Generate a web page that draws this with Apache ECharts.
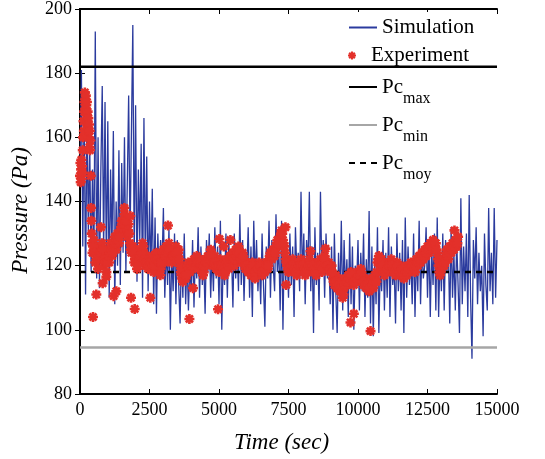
<!DOCTYPE html>
<html>
<head>
<meta charset="utf-8">
<title>Pressure vs time</title>
<script src="https://cdn.jsdelivr.net/npm/echarts@6/dist/echarts.min.js"></script>
<style>
  html, body { margin: 0; padding: 0; background: #fff; }
  #main { width: 545px; height: 459px; }
</style>
</head>
<body>
<div id="main"></div>
<script>
// simulation pressure, one value every 50 s from 0 to 15000 s
var simStep = 50;
var simulation = [
  145, 181, 126, 172, 111, 168, 130, 158, 118, 150,
  122, 193, 116, 160, 113, 150, 176, 124, 171, 118,
  165, 110, 150, 125, 162, 108, 140, 120, 156, 114,
  152, 124, 160, 118, 145, 173, 128, 162, 195, 122,
  170, 115, 150, 128, 158, 110, 166, 120, 154, 112,
  140, 118, 144, 108, 135, 105, 130, 116, 128, 120,
  138, 110, 126, 114, 132, 100, 124, 112, 130, 108,
  128, 114, 102, 125, 110, 130, 108, 122, 106, 120,
  112, 128, 107, 124, 116, 132, 110, 126, 114, 122,
  105, 128, 118, 130, 110, 124, 112, 132, 116, 126,
  108, 134, 100, 122, 114, 130, 110, 128, 118, 124,
  107, 130, 116, 126, 112, 136, 114, 128, 109, 124,
  118, 132, 110, 126, 104, 134, 115, 128, 112, 122,
  108, 130, 114, 101, 126, 116, 134, 110, 128, 120,
  112, 136, 118, 126, 106, 134, 100, 128, 115, 124,
  110, 130, 114, 126, 104, 132, 118, 124, 112, 143,
  116, 130, 108, 128, 120, 143, 112, 126, 99, 132,
  114, 124, 106, 143, 118, 128, 110, 130, 116, 122,
  108, 126, 100, 130, 112, 99, 124, 110, 134, 106,
  128, 112, 122, 104, 130, 108, 126, 100, 120, 114,
  128, 106, 124, 112, 130, 104, 122, 110, 137, 102,
  126, 98, 122, 108, 132, 99, 120, 112, 128, 106,
  124, 110, 132, 104, 126, 114, 120, 102, 130, 112,
  124, 106, 128, 99, 135, 110, 126, 114, 122, 108,
  130, 104, 124, 112, 134, 108, 126, 116, 120, 132,
  110, 128, 104, 126, 114, 130, 106, 135, 104, 124,
  112, 130, 106, 128, 118, 126, 102, 132, 110, 124,
  106, 128, 114, 99, 141, 108, 126, 112, 130, 104,
  142, 110, 91, 128, 116, 132, 108, 124, 112, 120,
  98, 130, 114, 106, 138, 112, 124, 108, 138, 110,
  128
];

// experiment: [time (s), pressure (Pa)]
var experiment = [
  [0,148],[15,152],[25,146],[40,150],[50,153],[60,147],[75,151],[90,149],[100,156],[110,160],
  [125,165],[140,162],[150,168],[160,171],[175,174],[190,172],[200,169],[210,173],[225,170],[240,167],
  [250,171],[260,165],[275,168],[290,163],[300,166],[310,160],[325,164],[340,157],[350,162],[360,156],
  [375,159],[390,148],[400,138],[410,134],[420,130],[430,127],
  [450,124],[500,128],[550,121],[600,125],[650,119],[700,126],[750,122],[800,127],[850,120],[900,124],
  [950,118],[1000,125],[1050,121],[1100,127],[1150,123],[1200,126],[1250,129],[1300,125],[1350,130],[1400,127],
  [1450,131],[1500,134],[1550,130],[1600,136],[1650,132],[1700,129],[1750,133],[1800,127],[1850,124],[1900,126],
  [1950,121],[2000,123],[2050,119],[2100,122],[2150,125],[2200,121],[2250,127],[2300,124],[2350,120],[2400,123],
  [2450,119],[2500,122],[2550,120],[2600,123],[2650,118],[2700,121],[2750,124],[2800,120],[2850,122],[2900,119],
  [2950,123],[3000,125],[3050,121],[3100,126],[3150,123],[3200,127],[3250,124],[3300,121],[3350,125],[3400,122],
  [3450,126],[3500,123],[3550,125],[3600,120],[3650,117],[3700,115],[3750,118],[3800,116],[3850,119],[3900,121],
  [3950,118],[4000,121],[4050,119],[4100,122],[4150,120],[4200,123],[4250,119],[4300,122],[4350,120],[4400,121],
  [4450,118],[4500,122],[4550,120],[4600,123],[4650,121],[4700,125],[4750,122],[4800,120],[4850,123],[4900,119],
  [4950,121],[5000,118],[5050,122],[5100,119],[5150,121],[5200,117],[5250,120],[5300,122],[5350,119],[5400,123],
  [5450,121],[5500,124],[5550,120],[5600,125],[5650,122],[5700,126],[5750,123],[5800,121],[5850,124],[5900,122],
  [5950,119],[6000,121],[6050,118],[6100,120],[6150,117],[6200,121],[6250,119],[6300,116],[6350,120],[6400,118],
  [6450,121],[6500,119],[6550,117],[6600,120],[6650,118],[6700,121],[6750,119],[6800,122],[6850,124],[6900,122],
  [6950,125],[7000,123],[7050,126],[7100,128],[7150,126],[7200,129],[7250,131],[7300,128],[7350,126],[7400,122],
  [7450,120],[7500,118],[7550,121],[7600,119],[7650,122],[7700,118],[7750,120],[7800,117],[7850,121],[7900,119],
  [7950,122],[8000,119],[8050,121],[8100,117],[8150,120],[8200,118],[8250,122],[8300,119],[8350,121],[8400,118],
  [8450,120],[8500,117],[8550,121],[8600,119],[8650,122],[8700,118],[8750,120],[8800,123],[8850,121],[8900,119],
  [8950,121],[9000,118],[9050,120],[9100,116],[9150,114],[9200,117],[9250,113],[9300,116],[9350,112],[9400,115],
  [9450,110],[9500,113],[9550,116],[9600,114],[9650,117],[9700,115],[9750,118],[9800,116],[9850,114],[9900,117],
  [9950,115],[10000,118],[10050,116],[10100,119],[10150,117],[10200,114],[10250,116],[10300,113],[10350,115],[10400,112],
  [10450,114],[10500,116],[10550,113],[10600,117],[10650,115],[10700,121],[10750,123],[10800,120],[10850,122],[10900,119],
  [10950,117],[11000,120],[11050,118],[11100,121],[11150,119],[11200,122],[11250,118],[11300,120],[11350,117],[11400,121],
  [11450,119],[11500,117],[11550,120],[11600,118],[11650,116],[11700,119],[11750,117],[11800,120],[11850,118],[11900,121],
  [11950,119],[12000,121],[12050,118],[12100,122],[12150,120],[12200,123],[12250,121],[12300,124],[12350,122],[12400,125],
  [12450,123],[12500,126],[12550,124],[12600,127],[12650,125],[12700,128],[12750,126],[12800,127],[12850,124],[12900,120],
  [12950,117],[13000,119],[13050,122],[13100,120],[13150,123],[13200,125],[13250,122],[13300,126],[13350,124],[13400,127],
  [13450,125],[13500,128],[13550,126],[13600,129]
];

// experiment readings in between, one every 50 s starting at 475 s
var expMidStart = 475;
var experimentMid = [
  126, 124, 123, 122, 123, 124, 124, 125, 122, 121,
  121, 123, 124, 125, 124, 127, 127, 128, 128, 129,
  132, 133, 133, 134, 134, 131, 130, 125, 125, 124,
  122, 121, 120, 123, 123, 124, 126, 122, 121, 121,
  120, 121, 121, 120, 120, 122, 122, 121, 121, 121,
  124, 123, 123, 124, 125, 125, 122, 123, 123, 124,
  124, 124, 122, 118, 116, 116, 117, 117, 120, 119,
  120, 120, 121, 121, 121, 121, 121, 121, 121, 120,
  120, 121, 121, 122, 123, 123, 121, 121, 121, 120,
  120, 120, 120, 120, 119, 118, 121, 120, 121, 122,
  122, 122, 122, 123, 124, 124, 122, 122, 123, 120,
  120, 120, 119, 119, 119, 120, 118, 118, 119, 119,
  120, 118, 118, 119, 119, 120, 120, 123, 123, 123,
  124, 124, 127, 127, 127, 130, 130, 127, 124, 121,
  119, 119, 120, 120, 120, 119, 118, 119, 120, 120,
  120, 120, 119, 118, 119, 120, 120, 120, 120, 119,
  118, 119, 120, 120, 120, 119, 121, 122, 120, 120,
  119, 119, 118, 115, 115, 115, 114, 114, 113, 112,
  111, 114, 115, 115, 116, 116, 117, 115, 115, 116,
  116, 117, 117, 118, 115, 115, 114, 114, 114, 113,
  115, 114, 115, 116, 118, 122, 121, 121, 120, 118,
  118, 119, 119, 120, 120, 120, 119, 118, 119, 120,
  118, 118, 119, 117, 117, 118, 118, 119, 119, 120,
  120, 119, 120, 121, 121, 122, 122, 123, 123, 124,
  124, 125, 125, 126, 126, 127, 127, 125, 122, 118,
  118, 120, 121, 121, 124, 123, 124, 125, 125, 126,
  126, 127, 127
];

// scattered experiment points away from the main band
var experimentOutliers = [
  [468,104],[587,111],[755,132],[815,114.5],[947,116.5],[1210,110.5],[1306,112],[1595,138],[1810,135.5],
  [1835,110],[1967,106.5],[2530,110],[2890,117],[3165,132.5],[3935,103.4],[4065,113],[4425,117],
  [4965,106.4],[5015,128.3],[5170,126],[5410,128],[7390,132],[7415,114],[8290,124.5],[8830,125.3],
  [9730,102.3],[9850,105],[10450,99.6],[10660,115],[13470,131]
];

var pcMax = 182;
var pcMin = 94.5;
var pcMoy = 118;

var xTicks = { min: 0, max: 15000, interval: 2500 };
var yTicks = { min: 80, max: 200, interval: 20 };

var serif = 'Liberation Serif, serif';
var asterisk = 'path://M-1.3 -5L1.3 -5L1.3 5L-1.3 5Z M-5 -1.3L5 -1.3L5 1.3L-5 1.3Z ' +
  'M-4.46 -2.62L-2.62 -4.46L4.46 2.62L2.62 4.46Z M-2.62 4.46L-4.46 2.62L2.62 -4.46L4.46 -2.62Z';

var simData = simulation.map(function (v, i) { return [i * simStep, v]; });
var expData = experiment
  .concat(experimentMid.map(function (v, i) { return [expMidStart + i * 50, v]; }))
  .concat(experimentOutliers);
function hline(v) { return [[xTicks.min, v], [xTicks.max, v]]; }

var subRich = {
  a: { fontSize: 21, fontFamily: serif, color: '#000', lineHeight: 24 },
  s: { fontSize: 16, fontFamily: serif, color: '#000', lineHeight: 16, padding: [24, 0, 0, 0] }
};
function legendAt(name, top, sub) {
  var l = {
    data: [name],
    left: 348,
    top: top,
    padding: 0,
    itemWidth: 28,
    itemHeight: 8,
    selectedMode: false,
    textStyle: { fontSize: 21, fontFamily: serif, color: '#000' }
  };
  if (name !== 'Experiment') {
    // hide the marker that ECharts puts in the middle of a line icon
    l.itemStyle = { color: 'transparent', borderColor: 'transparent', borderWidth: 0 };
  }
  if (sub) {
    l.formatter = function () { return '{a|Pc}{s|' + sub + '}'; };
    l.textStyle.rich = subRich;
  }
  return l;
}

var axisCommon = {
  axisLine: { lineStyle: { color: '#000', width: 2 } },
  axisTick: { inside: true, length: 5, lineStyle: { color: '#000', width: 1 } },
  splitLine: { show: false }
};
function plain(v) { return String(v); }

var option = {
  animation: false,
  backgroundColor: '#fff',
  textStyle: { fontFamily: serif },
  grid: { left: 80, right: 48, top: 8, bottom: 63 },
  legend: [
    legendAt('Simulation', 17),
    legendAt('Experiment', 45),
    legendAt('Pc_max', 67, 'max'),
    legendAt('Pc_min', 105, 'min'),
    legendAt('Pc_moy', 143, 'moy')
  ],
  graphic: [{
    type: 'rect', left: 344, top: 12, z: 3,
    shape: { width: 146, height: 172 },
    style: { fill: '#fff' }
  }],
  xAxis: [
    Object.assign({
      type: 'value', min: xTicks.min, max: xTicks.max, interval: xTicks.interval,
      name: 'Time (sec)', nameLocation: 'middle', nameGap: 37,
      nameTextStyle: { fontSize: 23, fontStyle: 'italic', fontFamily: serif, color: '#000', padding: [0, 14, 0, 0] },
      axisLabel: { fontSize: 18, fontFamily: serif, color: '#000', margin: 7, formatter: plain }
    }, axisCommon),
    Object.assign({
      type: 'value', position: 'top', min: xTicks.min, max: xTicks.max, interval: xTicks.interval,
      axisLabel: { show: false }
    }, axisCommon)
  ],
  yAxis: [
    Object.assign({
      type: 'value', min: yTicks.min, max: yTicks.max, interval: yTicks.interval,
      name: 'Pressure (Pa)', nameLocation: 'middle', nameGap: 48,
      nameTextStyle: { fontSize: 23, fontStyle: 'italic', fontFamily: serif, color: '#000', padding: [0, 18, 0, 0] },
      axisLabel: { fontSize: 18, fontFamily: serif, color: '#000', margin: 8, formatter: plain }
    }, axisCommon),
    Object.assign({
      type: 'value', position: 'right', min: yTicks.min, max: yTicks.max, interval: yTicks.interval,
      axisLabel: { show: false }
    }, axisCommon)
  ],
  series: [
    {
      name: 'Simulation', type: 'line', data: simData, symbol: 'none', sampling: null, z: 2,
      lineStyle: { color: '#2b3b9e', width: 1.3 }, itemStyle: { color: '#2b3b9e' }
    },
    {
      name: 'Experiment', type: 'scatter', data: expData, symbol: asterisk, symbolSize: 10, z: 3,
      itemStyle: { color: '#e3302a', opacity: 1 }, large: false
    },
    {
      name: 'Pc_max', type: 'line', data: hline(pcMax), symbol: 'none', z: 3,
      lineStyle: { color: '#000', width: 2.5 }, itemStyle: { color: '#000' }
    },
    {
      name: 'Pc_min', type: 'line', data: hline(pcMin), symbol: 'none', z: 3,
      lineStyle: { color: '#a6a6a6', width: 2.5 }, itemStyle: { color: '#a6a6a6' }
    },
    {
      name: 'Pc_moy', type: 'line', data: hline(pcMoy), symbol: 'none', z: 3,
      lineStyle: { color: '#000', width: 2.5, type: [6, 5] }, itemStyle: { color: '#000' }
    }
  ]
};

var myChart = echarts.init(document.getElementById('main'));
myChart.setOption(option);
</script>
</body>
</html>
